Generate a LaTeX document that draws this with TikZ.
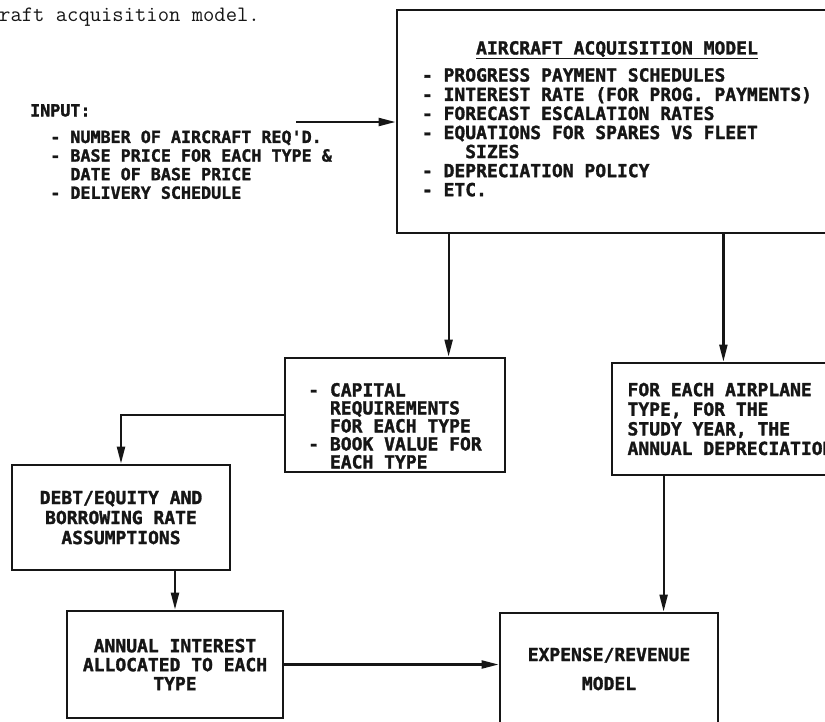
\documentclass[tikz,border=0pt]{standalone}
\usepackage{fontspec}
\usetikzlibrary{arrows.meta}
\newfontfamily\flowfont{DejaVu Sans Mono}[BoldFeatures={FakeBold=1.6}]
\definecolor{ink}{RGB}{22,22,22}
\newcommand\ind{\phantom{-~}}
\tikzset{
  box/.style={draw=ink,line width=2.8pt,text=ink,inner sep=0pt,
    font=\flowfont\bfseries\fontsize{18}{19}\selectfont},
  flow/.style={draw=ink,line width=2.2pt,-{Triangle[length=17pt,width=8pt]}}
}

\begin{document}
\begin{tikzpicture}[x=1pt,y=-1pt]
        \clip (0,0) rectangle (825,721);
        \node[font=\ttfamily\fontsize{22}{24}\selectfont,text=ink,anchor=west,inner sep=0pt] (caption) at (-1,17) {raft acquisition model.};
        % input list, left of the model box
        \node[font=\flowfont\bfseries\fontsize{16.7}{18.6}\selectfont,text=ink,align=left,anchor=north west,inner sep=0pt] (input) at (30,104)
          {INPUT:\\[8pt]\ind - NUMBER OF AIRCRAFT REQ'D.\\\ind - BASE PRICE FOR EACH TYPE \&\\\ind\ind DATE OF BASE PRICE\\\ind - DELIVERY SCHEDULE};
        \node[box,minimum width=440pt,minimum height=223pt] (main) at (617,121.5)
          {\begin{tabular}{@{}l@{}}
             \multicolumn{1}{@{}c@{}}{\underline{AIRCRAFT ACQUISITION MODEL}}\\[8pt]
             - PROGRESS PAYMENT SCHEDULES\\
             - INTEREST RATE (FOR PROG. PAYMENTS)\\
             - FORECAST ESCALATION RATES\\
             - EQUATIONS FOR SPARES VS FLEET\\
             \ind\ind SIZES\\
             - DEPRECIATION POLICY\\
             - ETC.
           \end{tabular}};
        \node[box,align=left,minimum width=220pt,minimum height=114pt,font=\flowfont\bfseries\fontsize{18}{18}\selectfont] (cap) at (395,415)
          {\rule{0pt}{35pt}- CAPITAL\\\ind REQUIREMENTS\\\ind FOR EACH TYPE\\- BOOK VALUE FOR\\\ind EACH TYPE};
        \node[box,align=left,minimum width=237pt,minimum height=112pt,font=\flowfont\bfseries\fontsize{18}{19.6}\selectfont] (dep) at (730.5,419)
          {FOR EACH AIRPLANE\\TYPE, FOR THE\\STUDY YEAR, THE\\ANNUAL DEPRECIATION};
        \node[box,align=center,minimum width=218pt,minimum height=105pt,font=\flowfont\bfseries\fontsize{18}{20}\selectfont] (debt) at (121,517.5)
          {DEBT/EQUITY AND\\BORROWING RATE\\ASSUMPTIONS};
        \node[box,align=center,minimum width=216pt,minimum height=107pt] (annual) at (175,664.5)
          {ANNUAL INTEREST\\ALLOCATED TO EACH\\TYPE};
        \node[box,align=center,minimum width=218pt,minimum height=112pt] (exp) at (609,669)
          {EXPENSE/REVENUE\\[10pt]MODEL};
        % connectors
        \coordinate (infeed) at (296,122);
        \draw[flow] (infeed) -- (infeed -| main.west);
        \draw[flow] ([xshift=53pt]main.south west) coordinate (m1) -- (m1 |- cap.north);
        \draw[flow] ([xshift=-115pt]main.south east) coordinate (m2) -- (m2 |- dep.north);
        \draw[flow] (cap.west) -| (debt.north);
        \draw[flow] (annual.north |- debt.south) -- (annual.north);
        \draw[flow] (annual.east) -- (annual.east -| exp.west);
        \draw[flow] ([xshift=53pt]dep.south west) coordinate (d1) -- (d1 |- exp.north);
      \end{tikzpicture}
\end{document}
